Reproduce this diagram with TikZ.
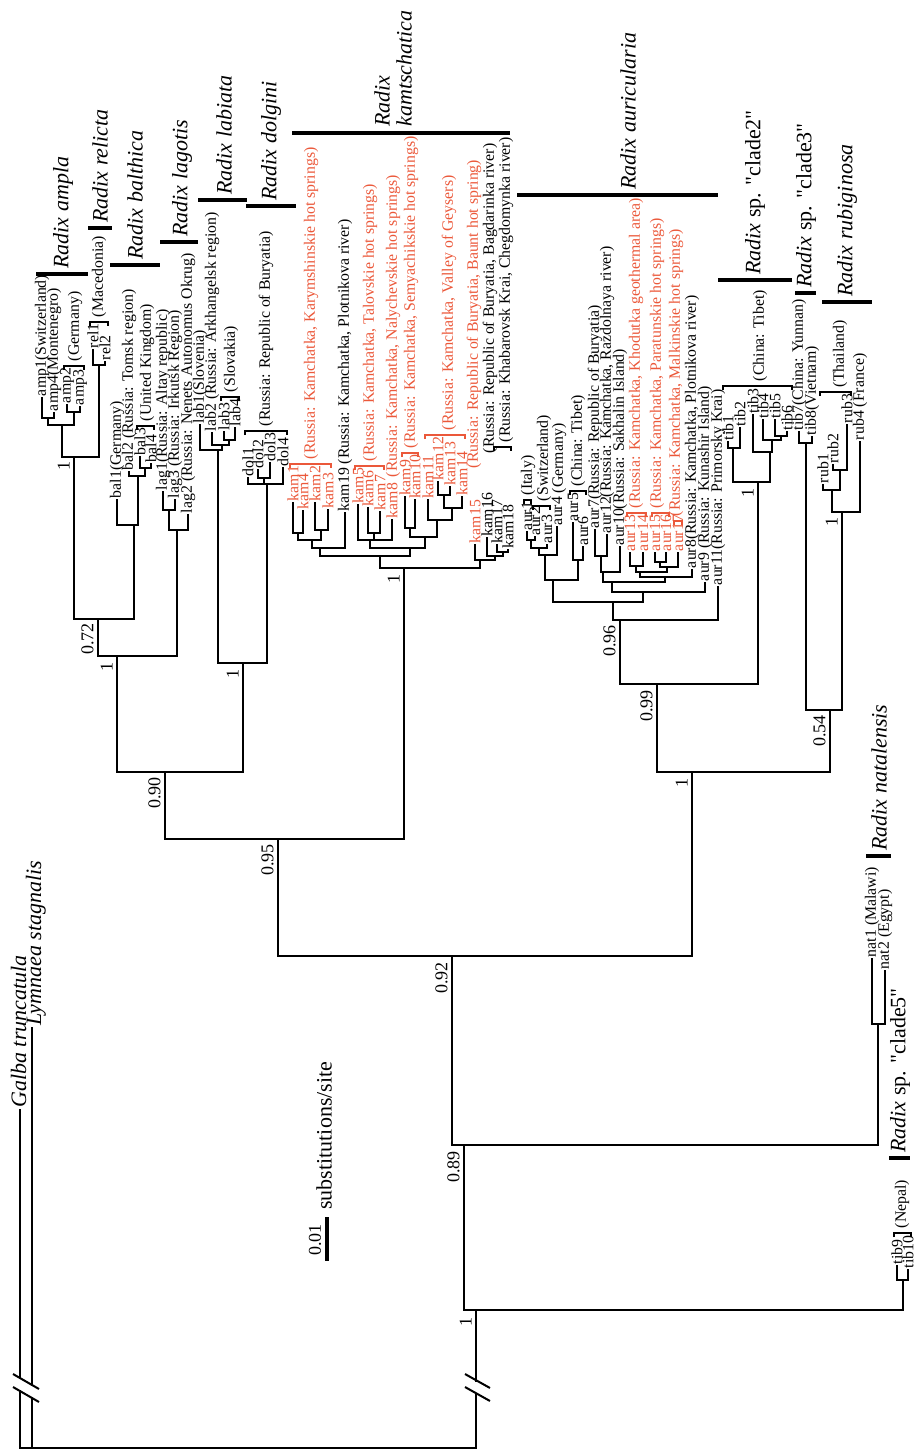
\documentclass[tikz,border=0pt]{standalone}
\usepackage{fontspec}
\setmainfont{Liberation Serif}
\definecolor{kred}{RGB}{235,88,58}
\tikzset{
 br/.style={line width=1.2pt, line cap=rect},
 brk/.style={line width=0.55pt},
 cb/.style={line width=1.8pt},
 lab/.style={rotate=90, anchor=west, inner sep=0.8pt, font=\fontsize{7.9}{9}\selectfont},
 sup/.style={rotate=90, anchor=south east, inner sep=1pt, font=\fontsize{9}{10}\selectfont},
 cn/.style={rotate=90, anchor=west, inner sep=1pt, font=\fontsize{11}{12}\selectfont},
}
\newcommand{\Tip}[6][black]{\draw[br] (#3,#4) -- (#3,#5); \node[lab,text=#1] (#2) at (#3,#5) {#6};}
\newcommand{\Hz}[3]{\draw[br] (#1,#3) -- (#2,#3);}
\newcommand{\Vt}[3]{\draw[br] (#1,#2) -- (#1,#3);}
\newcommand{\Brk}[4][black]{\draw[brk,#1] (#2,#4+4) -- (#2,#4) -- (#3,#4) -- (#3,#4+4);}
\newcommand{\Loc}[5][black]{\node[lab,text=#1] (#2) at (#3,#4) {#5};}
\newcommand{\Clade}[6]{\draw[cb] (#2,#4) -- (#3,#4); \node[cn] (#1) at (#5,#4-3) {#6};}
\newcommand{\qq}{\textquotedbl}
\begin{document}
\begin{tikzpicture}[x=0.5pt,y=-0.5pt]
\useasboundingbox (0,0) rectangle (914,1452);
% ---------- root and outgroups
\Vt{20}{1110}{1378} \Vt{20}{1391}{1448}
\Vt{32}{1028}{1385} \Vt{32}{1398}{1448}
\Hz{20}{476}{1448}
\Vt{476}{1310}{1381} \Vt{476}{1394}{1448}
\draw[line width=1pt] (13,1374) -- (39,1389) (13,1387) -- (39,1402);
\draw[line width=1pt] (465,1374) -- (490,1388) (465,1387) -- (490,1401);
\node[cn, anchor=base west] (galba) at (26,1110) {\itshape Galba truncatula};
\node[cn, anchor=base west] (lymn) at (41,1028) {\itshape Lymnaea stagnalis};
% ---------- clade5
\Hz{464}{903}{1310}
\Vt{903}{1280}{1310} \Hz{897}{908}{1280}
\Tip{tib9}{897}{1280}{1266}{tib9}
\Tip{tib10}{908}{1280}{1270}{tib10}
\Brk{894}{911}{1233}
\Loc{nepal}{902}{1230}{(Nepal)}
\Clade{c5}{889}{910}{1158}{900}{\textit{Radix} sp. \qq clade5\qq}
% ---------- natalensis
\Vt{464}{1145}{1310}
\Hz{452}{878}{1145}
\Vt{878}{1024}{1145} \Hz{872}{885}{1024}
\Tip{nat1}{872}{1024}{959}{nat1 (Malawi)}
\Tip{nat2}{885}{1024}{971}{nat2 (Egypt)}
\Clade{cnat}{866}{891}{856}{879}{\itshape Radix natalensis}
% ---------- backbone
\Vt{452}{956}{1145}
\Hz{278}{692}{956}
\Vt{278}{839}{956}
\Hz{165}{404}{839}
\Vt{165}{772}{839}
\Hz{117}{243}{772}
\Vt{117}{656}{772}
\Hz{98}{177}{656}
\Vt{98}{619}{656}
\Hz{74}{134}{619}
\Vt{74}{457}{619}
\Hz{62}{99}{457}
% ampla
\Vt{62}{425}{457}
\Hz{48}{74}{425}
\Vt{48}{418}{425} \Hz{42}{54}{418}
\Tip{amp1}{42}{418}{398}{amp1(Switzerland)}
\Tip{amp4}{54}{418}{413}{amp4(Montenegro)}
\Vt{74}{412}{425} \Hz{67}{80}{412}
\Tip{amp2}{67}{412}{405}{amp2}
\Tip{amp3}{80}{412}{407}{amp3}
\Brk{64}{84}{366}
\Loc{lger}{75}{363}{(Germany)}
\Clade{campla}{36}{88}{274}{63}{\itshape Radix ampla}
% relicta
\Vt{99}{365}{457} \Hz{93}{105}{365}
\Tip{rel1}{93}{365}{350}{rel1}
\Tip{rel2}{105}{365}{362}{rel2}
\Brk{90}{108}{322}
\Loc{lmac}{99}{319}{(Macedonia)}
\Clade{crel}{88}{112}{228}{100}{\itshape Radix relicta}
% balthica
\Vt{134}{525}{619} \Hz{117}{138}{525}
\Tip{bal1}{117}{525}{500}{bal1(Germany)}
\Vt{138}{476}{525} \Hz{129}{145}{476}
\Tip{bal2}{129}{476}{472}{bal2 (Russia: Tomsk region)}
\Vt{145}{468}{476} \Hz{140}{151}{468}
\Tip{bal3}{140}{468}{457}{bal3}
\Tip{bal4}{151}{468}{464}{bal4}
\Brk{137}{154}{426}
\Loc{luk}{147}{423}{(United Kingdom)}
\Clade{cbal}{110}{160}{265}{135}{\itshape Radix balthica}
% lagotis
\Vt{177}{530}{656} \Hz{169}{188}{530}
\Tip{lag2}{188}{530}{515}{lag2 (Russia: Nenets Autonomus Okrug)}
\Vt{169}{510}{530} \Hz{163}{175}{510}
\Tip{lag1}{163}{510}{492}{lag1(Russia: Altay republic)}
\Tip{lag3}{175}{510}{500}{lag3 (Russia: Irkutsk Region)}
\Clade{clag}{160}{198}{242}{182}{\itshape Radix lagotis}
% labiata + dolgini
\Vt{243}{663}{772} \Hz{218}{267}{663}
\Vt{218}{450}{663} \Hz{200}{222}{450}
\Tip{lab1}{200}{450}{425}{lab1(Slovenia)}
\Vt{222}{445}{450} \Hz{212}{229}{445}
\Tip{lab2}{212}{445}{433}{lab2 (Russia: Arkhangelsk region)}
\Vt{229}{440}{445} \Hz{224}{235}{440}
\Tip{lab3}{224}{440}{432}{lab3}
\Tip{lab4}{235}{440}{428}{lab4}
\Brk{221}{239}{397}
\Loc{lslo}{231}{394}{(Slovakia)}
\Clade{clab}{198}{247}{200}{224}{\itshape Radix labiata}
\Vt{267}{484}{663} \Hz{248}{283}{484}
\Tip{dol1}{248}{484}{478}{dol1}
\Vt{264}{478}{484} \Hz{258}{270}{478}
\Tip{dol2}{258}{478}{470}{dol2}
\Tip{dol3}{270}{478}{463}{dol3}
\Tip{dol4}{283}{484}{468}{dol4}
\Brk{245}{287}{431}
\Loc{ldol}{266}{428}{(Russia: Republic of Buryatia)}
\Clade{cdol}{246}{296}{206}{271}{\itshape Radix dolgini}
% ---------- kamtschatica
\Vt{404}{568}{839} \Hz{380}{480}{568}
\Vt{380}{556}{568} \Hz{320}{410}{556}
\Vt{320}{548}{556} \Hz{312}{345}{548}
\Tip{kam19}{345}{548}{513}{kam19 (Russia: Kamchatka, Plotnikova river)}
\Vt{312}{540}{548} \Hz{298}{321}{540}
\Vt{298}{533}{540} \Hz{293}{303}{533}
\Tip[kred]{kam1}{293}{533}{503}{kam1}
\Tip[kred]{kam4}{303}{533}{511}{kam4}
\Vt{321}{530}{540} \Hz{315}{328}{530}
\Tip[kred]{kam2}{315}{530}{503}{kam2}
\Tip[kred]{kam3}{328}{530}{510}{kam3}
\Brk[kred]{290}{331}{464}
\Loc[kred]{lkar}{311}{461}{(Russia: Kamchatka, Karymshinskie hot springs)}
\Vt{410}{548}{556} \Hz{370}{425}{548}
\Vt{370}{540}{548} \Hz{358}{392}{540}
\Tip[kred]{kam5}{358}{540}{505}{kam5}
\Vt{374}{533}{540} \Hz{368}{380}{533}
\Tip[kred]{kam6}{368}{533}{508}{kam6}
\Tip[kred]{kam7}{380}{533}{512}{kam7}
\Tip[kred]{kam8}{392}{540}{520}{kam8}
\Brk[kred]{355}{384}{466}
\Loc[kred]{ltal}{370}{463}{(Russia: Kamchatka, Talovskie hot springs)}
\Loc[kred]{lnal}{393}{479}{(Russia: Kamchatka, Nalychevskie hot springs)}
\Vt{425}{537}{548} \Hz{410}{437}{537}
\Vt{410}{528}{537} \Hz{405}{415}{528}
\Tip[kred]{kam9}{405}{528}{497}{kam9}
\Tip[kred]{kam10}{415}{528}{500}{kam10}
\Brk[kred]{402}{418}{453}
\Loc[kred]{lsem}{411}{450}{(Russia: Kamchatka, Semyachikskie hot springs)}
\Vt{437}{520}{537} \Hz{428}{452}{520}
\Tip[kred]{kam11}{428}{520}{500}{kam11}
\Vt{452}{508}{520} \Hz{444}{462}{508}
\Vt{444}{495}{508} \Hz{438}{450}{495}
\Tip[kred]{kam12}{438}{495}{482}{kam12}
\Tip[kred]{kam13}{450}{495}{487}{kam13}
\Tip[kred]{kam14}{462}{508}{497}{kam14}
\Brk[kred]{425}{465}{435}
\Loc[kred]{lval}{449}{432}{(Russia: Kamchatka, Valley of Geysers)}
\Vt{480}{560}{568} \Hz{475}{495}{560}
\Tip[kred]{kam15}{475}{560}{545}{kam15}
\Loc[kred]{lbau}{474}{470}{(Russia: Republic of Buryatia, Baunt hot spring)}
\Vt{495}{556}{560} \Hz{487}{503}{556}
\Tip{kam16}{487}{556}{538}{kam16}
\Loc{lbag}{490}{455}{(Russia: Republic of Buryatia, Bagdarinka river)}
\Vt{503}{552}{556} \Hz{497}{508}{552}
\Tip{kam17}{497}{552}{545}{kam17}
\Tip{kam18}{508}{552}{550}{kam18}
\Brk{494}{511}{447}
\Loc{lche}{506}{444}{(Russia: Khabarovsk Krai, Chegdomynka river)}
\draw[cb] (292,133) -- (510,133);
\node[cn] (ckamA) at (382,129) {\itshape Radix};
\node[cn] (ckamB) at (404,129) {\itshape kamtschatica};
% ---------- auricularia
\Vt{692}{772}{956} \Hz{657}{830}{772}
\Vt{657}{684}{772} \Hz{620}{758}{684}
\Vt{620}{620}{684} \Hz{613}{718}{620}
\Tip{aur11}{718}{620}{587}{aur11(Russia: Primorsky Krai)}
\Vt{613}{602}{620} \Hz{553}{643}{602}
\Vt{553}{580}{602} \Hz{545}{578}{580}
\Vt{545}{555}{580} \Hz{539}{557}{555}
\Tip{aur4}{557}{555}{527}{aur4}
\Vt{539}{548}{555} \Hz{531}{547}{548}
\Tip{aur3}{547}{548}{545}{aur3}
\Vt{531}{540}{548} \Hz{527}{535}{540}
\Tip{aur1}{527}{540}{532}{aur1}
\Tip{aur2}{535}{540}{537}{aur2}
\Brk{524}{531}{500}
\Loc{lita}{528}{497}{(Italy)}
\Brk{533}{550}{506}
\Loc{lswi}{544}{503}{(Switzerland)}
\Loc{lgeA}{559}{495}{(Germany)}
\Vt{578}{560}{580} \Hz{573}{583}{560}
\Tip{aur5}{573}{560}{523}{aur5}
\Tip{aur6}{583}{560}{547}{aur6}
\Brk{570}{586}{491}
\Loc{ltibA}{578}{488}{(China: Tibet)}
\Vt{643}{592}{602} \Hz{612}{705}{592}
\Tip{aur9}{705}{592}{583}{aur9 (Russia: Kunashir Island)}
\Vt{612}{582}{592} \Hz{603}{665}{582}
\Vt{603}{572}{582} \Hz{601}{620}{572}
\Vt{601}{556}{572} \Hz{595}{607}{556}
\Tip{aur7}{595}{556}{530}{aur7(Russia: Republic of Buryatia)}
\Tip{aur12}{607}{556}{535}{aur12(Russia: Kamchatka, Razdolnaya river)}
\Tip{aur10}{620}{572}{547}{aur10(Russia: Sakhalin Island)}
\Vt{665}{577}{582} \Hz{640}{692}{577}
\Tip{aur8}{692}{577}{570}{aur8(Russia: Kamchatka, Plotnikova river)}
\Vt{640}{572}{577} \Hz{636}{667}{572}
\Vt{636}{566}{572} \Hz{630}{643}{566}
\Tip[kred]{aur13}{630}{566}{553}{aur13}
\Tip[kred]{aur14}{643}{566}{553}{aur14}
\Vt{667}{567}{572} \Hz{660}{678}{567}
\Vt{660}{562}{567} \Hz{655}{666}{562}
\Tip[kred]{aur15}{655}{562}{553}{aur15}
\Tip[kred]{aur16}{666}{562}{553}{aur16}
\Tip[kred]{aur17}{678}{567}{553}{aur17}
\Brk[kred]{627}{646}{513}
\Loc[kred]{lkho}{636}{510}{(Russia: Kamchatka, Khodutka geothermal area)}
\Brk[kred]{652}{669}{513}
\Loc[kred]{lpar}{657}{510}{(Russia: Kamchatka, Paratunskie hot springs)}
\Brk[kred]{674}{682}{521}
\Loc[kred]{lmal}{676}{518}{(Russia: Kamchatka, Malkinskie hot springs)}
\Clade{caur}{517}{718}{195}{628}{\itshape Radix auricularia}
% ---------- clade2 (tib1-6)
\Vt{758}{482}{684} \Hz{733}{770}{482}
\Vt{733}{448}{482} \Hz{728}{740}{448}
\Tip{tib1}{728}{448}{442}{tib1}
\Tip{tib2}{740}{448}{428}{tib2}
\Vt{770}{452}{482} \Hz{753}{772}{452}
\Tip{tib3}{753}{452}{415}{tib3}
\Vt{772}{440}{452} \Hz{763}{781}{440}
\Tip{tib4}{763}{440}{420}{tib4}
\Vt{781}{436}{440} \Hz{775}{787}{436}
\Tip{tib5}{775}{436}{420}{tib5}
\Tip{tib6}{787}{436}{432}{tib6}
\Brk{723}{792}{386}
\Loc{ltibB}{760}{383}{(China: Tibet)}
\Clade{cc2}{718}{792}{280}{755}{\textit{Radix} sp. \qq clade2\qq}
% ---------- clade3 + rubiginosa
\Vt{830}{710}{772} \Hz{806}{842}{710}
\Vt{806}{443}{710} \Hz{799}{812}{443}
\Tip{tib7}{799}{443}{432}{tib7(China: Yunnan)}
\Tip{tib8}{812}{443}{437}{tib8(Vietnam)}
\Clade{cc3}{795}{816}{293}{806}{\textit{Radix} sp. \qq clade3\qq}
\Vt{842}{512}{710} \Hz{832}{860}{512}
\Tip{rub4}{860}{512}{442}{rub4 (France)}
\Vt{832}{490}{512} \Hz{823}{840}{490}
\Tip{rub1}{823}{490}{485}{rub1}
\Vt{840}{470}{490} \Hz{833}{847}{470}
\Tip{rub2}{833}{470}{465}{rub2}
\Tip{rub3}{847}{470}{425}{rub3}
\Brk{820}{851}{392}
\Loc{ltha}{840}{389}{(Thailand)}
\Clade{crub}{822}{872}{302}{847}{\itshape Radix rubiginosa}
% ---------- support values
\node[sup] (s1) at (72,459) {1};
\node[sup] (s2) at (96,621) {0.72};
\node[sup] (s3) at (115,660) {1};
\node[sup] (s4) at (163,775) {0.90};
\node[sup] (s5) at (241,667) {1};
\node[sup] (s6) at (276,842) {0.95};
\node[sup] (s7) at (402,572) {1};
\node[sup] (s8) at (450,960) {0.92};
\node[sup] (s9) at (462,1149) {0.89};
\node[sup] (s10) at (474,1315) {1};
\node[sup] (s11) at (690,776) {1};
\node[sup] (s12) at (655,688) {0.99};
\node[sup] (s13) at (618,623) {0.96};
\node[sup] (s14) at (828,713) {0.54};
\node[sup] (s15) at (756,486) {1};
\node[sup] (s16) at (840,515) {1};
% ---------- scale
\draw[line width=1.8pt] (327,1217) -- (327,1261);
\node[rotate=90, inner sep=0pt, font=\fontsize{9}{10}\selectfont] (sc) at (315,1240) {0.01};
\node[rotate=90, anchor=west, inner sep=1pt, font=\fontsize{11}{12}\selectfont] (subs) at (324,1212) {substitutions/site};
\end{tikzpicture}
\end{document}
